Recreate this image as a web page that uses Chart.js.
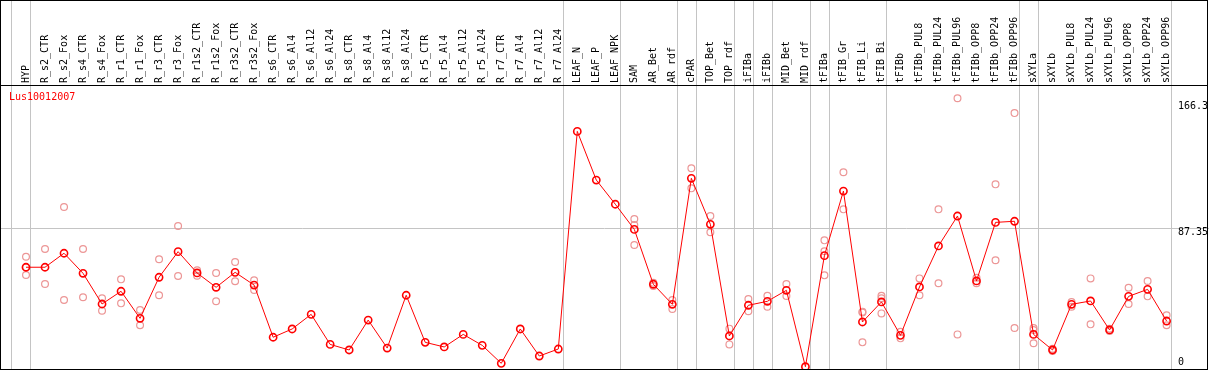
<!DOCTYPE html>
<html lang="en">
<head>
<meta charset="UTF-8">
<title>Lus10012007</title>
<script src="https://cdn.jsdelivr.net/npm/chart.js"></script>
<style>
  html, body { margin: 0; padding: 0; background: #fff; }
</style>
</head>
<body>
<canvas id="geneChart" width="1209" height="370"></canvas>
<script>
// gene shown in the top-left corner of the plot
const geneName = 'Lus10012007';

const categories = [
  'HYP', 'R_s2_CTR', 'R_s2_Fox', 'R_s4_CTR', 'R_s4_Fox', 'R_r1_CTR', 'R_r1_Fox',
  'R_r3_CTR', 'R_r3_Fox', 'R_r1s2_CTR', 'R_r1s2_Fox', 'R_r3s2_CTR', 'R_r3s2_Fox',
  'R_s6_CTR', 'R_s6_Al4', 'R_s6_Al12', 'R_s6_Al24', 'R_s8_CTR', 'R_s8_Al4', 'R_s8_Al12',
  'R_s8_Al24', 'R_r5_CTR', 'R_r5_Al4', 'R_r5_Al12', 'R_r5_Al24', 'R_r7_CTR', 'R_r7_Al4',
  'R_r7_Al12', 'R_r7_Al24', 'LEAF_N', 'LEAF_P', 'LEAF_NPK', 'SAM', 'AR_Bet', 'AR_rdf',
  'cPAR', 'TOP_Bet', 'TOP_rdf', 'iFIBa', 'iFIBb', 'MID_Bet', 'MID_rdf', 'tFIBa',
  'tFIB_Gr', 'tFIB_Li', 'tFIB_Bi', 'tFIBb', 'tFIBb_PUL8', 'tFIBb_PUL24', 'tFIBb_PUL96',
  'tFIBb_OPP8', 'tFIBb_OPP24', 'tFIBb_OPP96', 'sXYLa', 'sXYLb', 'sXYLb_PUL8',
  'sXYLb_PUL24', 'sXYLb_PUL96', 'sXYLb_OPP8', 'sXYLb_OPP24', 'sXYLb_OPP96'
];

// mean expression (red line)
const means = [
  62.7, 62.7, 71.5, 58.9, 39.6, 47.6, 30.6, 56.4, 72.5, 59.1, 50.1, 59.5, 51.5,
  18.7, 23.9, 33.1, 14.2, 10.7, 29.5, 11.9, 45.1, 15.5, 12.6, 20.5, 13.6, 2.3, 23.9,
  6.9, 11.3, 148.1, 117.5, 102.3, 86.5, 52.0, 39.4, 118.6, 89.7, 19.5, 38.8, 41.3,
  48.2, 0.2, 70.0, 110.6, 28.3, 40.9, 19.9, 50.3, 76.1, 94.9, 54.1, 90.9, 91.6,
  20.5, 10.7, 39.4, 41.5, 23.3, 44.4, 48.8, 28.9
];

// single replicates (pale circles), null where none is shown
const rep1 = [
  69.3, 74.2, 100.6, 74.2, 43.2, 55.1, 35.8, 67.7, 88.6, 60.8, 59.1, 66.0, 54.5,
  null, null, null, null, null, null, null, null, null, null, null, null, null, null,
  null, null, null, null, null, 93.0, 53.0, 42.1, 124.9, 94.9, 24.1, 42.7, 44.8,
  52.2, null, 79.6, 122.4, 34.8, 44.8, 22.2, 55.7, 99.1, 168.9, 56.1, 114.8, 159.6,
  24.5, 11.5, 40.9, 55.7, 24.0, 49.8, 54.1, 32.5
];
const rep2 = [
  62.7, 52.2, 42.1, 43.8, 35.4, 40.0, 26.2, 45.1, 57.2, 57.4, 41.3, 53.9, 48.4,
  null, null, null, null, null, null, null, null, null, null, null, null, null, null,
  null, null, null, null, null, 89.3, 50.9, 36.5, 112.3, 84.7, 14.2, 35.0, 37.9,
  44.6, null, 72.8, 99.1, 34.3, 43.2, 18.0, 45.1, 52.6, 20.5, 52.6, 67.1, 24.5,
  23.3, 10.0, 37.9, 26.8, 22.6, 39.6, 44.4, 26.2
];
const rep3 = [
  57.8, null, null, null, null, null, null, null, null, null, null, null, null,
  null, null, null, null, null, null, null, null, null, null, null, null, null, null,
  null, null, null, null, null, 76.7, null, null, null, null, null, null, null,
  null, null, 57.6, null, 15.5, 33.7, null, null, null, null, null, null, null,
  14.9, null, null, null, null, null, null, null
];

// index of the last category of each group (-1 = left edge)
const groupEnds = [-1, 0, 28, 31, 34, 35, 37, 38, 39, 41, 42, 45, 52, 53, 60];

const yTickValues = [0, 87.35, 166.3];
const yTickLabels = ['0', '87.35', '166.3'];

const monoFont = "'DejaVu Sans Mono', 'Liberation Mono', monospace";

function repPoints(arr) {
  const pts = [];
  arr.forEach((v, i) => { if (v !== null) pts.push({ x: i, y: v }); });
  return pts;
}

const repStyle = {
  type: 'scatter',
  showLine: false,
  pointRadius: 3.4,
  pointBorderWidth: 1.2,
  pointBorderColor: 'rgb(236,150,150)',
  pointBackgroundColor: 'rgba(0,0,0,0)',
  pointHoverRadius: 3.4
};

// frame, group separators, y labels and gene name
const framePlugin = {
  id: 'framePlugin',
  beforeDatasetsDraw(chart) {
    const { ctx, chartArea: a, scales: { x } } = chart;
    ctx.save();
    ctx.strokeStyle = '#c4c4c4';
    ctx.lineWidth = 1;
    groupEnds.forEach(i => {
      const px = Math.round(x.getPixelForValue(i + 0.23)) + 0.5;
      ctx.beginPath();
      ctx.moveTo(px, 0);
      ctx.lineTo(px, a.bottom);
      ctx.stroke();
    });
    ctx.restore();
  },
  afterDraw(chart) {
    const { ctx, chartArea: a, scales: { y } } = chart;
    ctx.save();
    ctx.strokeStyle = '#000';
    ctx.lineWidth = 1;
    ctx.strokeRect(0.5, 0.5, 1207, a.bottom);
    ctx.beginPath();
    ctx.moveTo(0, a.top + 0.5);
    ctx.lineTo(1208, a.top + 0.5);
    ctx.stroke();

    ctx.font = '10px ' + monoFont;
    ctx.textBaseline = 'middle';
    ctx.textAlign = 'left';
    ctx.fillStyle = '#000';
    yTickValues.forEach((v, i) => {
      const py = Math.min(y.getPixelForValue(v) + 4, a.bottom - 7);
      ctx.fillText(yTickLabels[i], 1178, py);
    });

    ctx.fillStyle = '#ff0000';
    ctx.fillText(geneName, 9, a.top + 12);
    ctx.restore();
  }
};

const ctx = document.getElementById('geneChart').getContext('2d');
const geneChart = new Chart(ctx, {
  type: 'line',
  data: {
    datasets: [
      {
        label: 'mean',
        data: means.map((v, i) => ({ x: i, y: v })),
        borderColor: '#ff0000',
        borderWidth: 1,
        tension: 0,
        pointRadius: 3.6,
        pointBorderWidth: 1.6,
        pointBorderColor: '#ff0000',
        pointBackgroundColor: 'rgba(0,0,0,0)',
        pointHoverRadius: 3.6
      },
      Object.assign({ label: 'rep1', data: repPoints(rep1) }, repStyle),
      Object.assign({ label: 'rep2', data: repPoints(rep2) }, repStyle),
      Object.assign({ label: 'rep3', data: repPoints(rep3) }, repStyle)
    ]
  },
  options: {
    responsive: false,
    animation: false,
    events: [],
    layout: { autoPadding: false, padding: { left: 0, right: 0, top: 0, bottom: 1 } },
    plugins: {
      legend: { display: false },
      tooltip: { enabled: false }
    },
    scales: {
      x: {
        type: 'linear',
        position: 'top',
        min: -1.3677,
        max: 62.23,
        afterBuildTicks: s => { s.ticks = categories.map((c, i) => ({ value: i })); },
        afterFit: s => { s.height = 85; s.paddingLeft = 0; s.paddingRight = 0; },
        grid: { display: false, drawTicks: false },
        border: { display: false },
        ticks: {
          autoSkip: false,
          minRotation: 90,
          maxRotation: 90,
          padding: 2,
          labelOffset: 12,
          color: '#000',
          font: { family: monoFont, size: 10 },
          callback: (v, i) => categories[i]
        }
      },
      y: {
        type: 'linear',
        position: 'left',
        min: -1.257,
        max: 177.25,
        afterBuildTicks: s => { s.ticks = yTickValues.map(v => ({ value: v })); },
        afterFit: s => { s.width = 0; },
        ticks: { display: false },
        border: { display: false },
        grid: {
          drawTicks: false,
          color: c => (c.index === 1 ? '#c4c4c4' : 'rgba(0,0,0,0)')
        }
      }
    }
  },
  plugins: [framePlugin]
});
</script>
</body>
</html>
